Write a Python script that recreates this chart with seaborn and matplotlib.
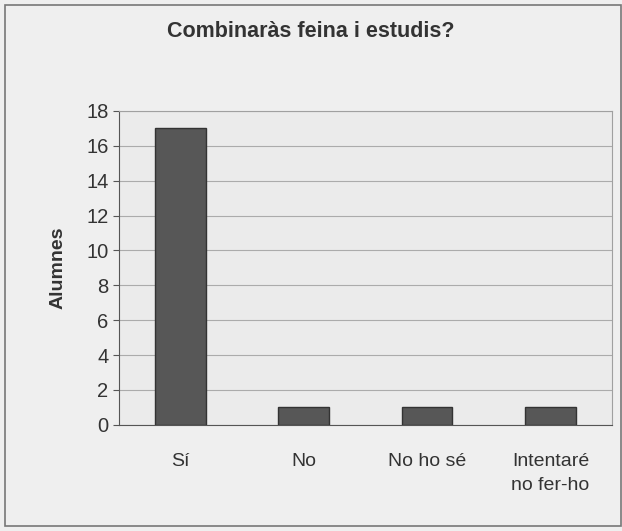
import matplotlib.pyplot as plt
import pandas as pd
import seaborn as sns
from matplotlib.patches import Rectangle

categories = ['Sí', 'No', 'No ho sé', 'Intentaré\nno fer-ho']
alumnes = [17, 1, 1, 1]

df = pd.DataFrame({'resposta': categories, 'alumnes': alumnes})

sns.set_style('white')
plt.rcParams['font.family'] = ['Liberation Sans', 'DejaVu Sans']

fig = plt.figure(figsize=(6.22, 5.31), dpi=100, facecolor='#efefef')
ax = fig.add_axes([0.191, 0.2, 0.793, 0.591])
ax.set_facecolor('#ebebeb')

sns.barplot(data=df, x='resposta', y='alumnes', color='#575757',
            width=0.41, edgecolor='#333333', linewidth=1, ax=ax, zorder=3)

ax.set_ylim(0, 18)
ax.set_yticks(range(0, 19, 2))
ax.set_xlim(-0.5, 3.5)
ax.grid(axis='y', color='#ababab', linewidth=0.8, zorder=0)
for s in ['top', 'right']:
    ax.spines[s].set_color('#a0a0a0')
for s in ['left', 'bottom']:
    ax.spines[s].set_color('#555555')
ax.tick_params(axis='y', length=4, color='#555555', labelsize=14.5,
               labelcolor='#333333', left=True)
ax.tick_params(axis='x', length=0, labelsize=14, labelcolor='#333333', pad=20)
for lbl in ax.get_xticklabels():
    lbl.set_linespacing(1.6)
ax.set_xlabel('')
ax.set_ylabel('Alumnes', fontsize=14, fontweight='bold', color='#333333', labelpad=14)

fig.text(0.5, 0.94, 'Combinaràs feina i estudis?', ha='center', va='center',
         fontsize=15.5, fontweight='bold', color='#333333')

fig.patches.append(Rectangle((0.008, 0.01), 0.99, 0.98, transform=fig.transFigure,
                             fill=False, edgecolor='#777777', linewidth=1.2))

fig.savefig('out.png', dpi=100, facecolor=fig.get_facecolor())
